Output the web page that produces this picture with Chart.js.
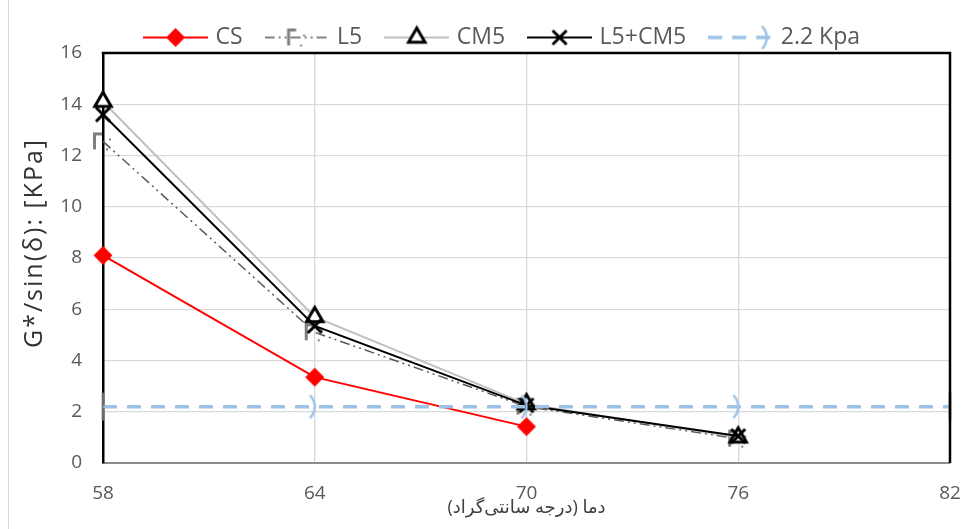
<!DOCTYPE html>
<html>
<head>
<meta charset="utf-8">
<script src="https://cdn.jsdelivr.net/npm/chart.js@4.4.1/dist/chart.umd.min.js"></script>
<style>
  html, body { margin: 0; padding: 0; background: #fff; }
  #wrap { width: 969px; height: 529px; position: relative; }
</style>
</head>
<body>
<div id="wrap"><canvas id="c" width="969" height="529"></canvas></div>
<script>
// Temperatures (°C) and G*/sin(δ) readings
const temps = [58, 64, 70, 76];
const limitTemps = [58, 64, 70, 76, 82];
const csValues = [8.1, 3.35, 1.42];
const l5Values = [12.55, 5.1, 2.2, 0.95];
const cm5Values = [14.1, 5.7, 2.3, 1.0];
const l5cm5Values = [13.6, 5.35, 2.25, 1.05];
const limitValue = 2.2;
const xTicks = [58, 64, 70, 76, 82];
const yTicks = [0, 2, 4, 6, 8, 10, 12, 14, 16];
const seriesNames = ['CS', 'L5', 'CM5', 'L5+CM5', '2.2 Kpa'];
const xTitle = 'دما (درجه سانتی‌گراد)';
const yTitle = 'G*/sin(δ): [KPa]';

const FONT = '"Open Sans", "DejaVu Sans", sans-serif';
const TEXT_GREY = '#595959';
const LIMIT_BLUE = '#9DC3E6';

function makeCanvas(w, h, draw) {
  const c = document.createElement('canvas');
  c.width = w; c.height = h;
  draw(c.getContext('2d'), w, h);
  return c;
}

// ---- marker painters (used for plot points and legend samples) ----
function paintDiamond(g, cx, cy) {
  const r = 9.5;
  g.fillStyle = '#FF0000';
  g.beginPath();
  g.moveTo(cx, cy - r); g.lineTo(cx + r, cy); g.lineTo(cx, cy + r); g.lineTo(cx - r, cy);
  g.closePath(); g.fill();
}
function paintBracket(g, cx, cy) {
  g.strokeStyle = '#7F7F7F';
  g.lineWidth = 3;
  g.lineCap = 'butt';
  g.beginPath();
  g.moveTo(cx - 8.5, cy + 8); g.lineTo(cx - 8.5, cy - 7.5); g.lineTo(cx - 1, cy - 7.5);
  g.stroke();
  g.fillStyle = '#7F7F7F';
  g.fillRect(cx + 6, cy - 3, 2, 2);
  g.fillRect(cx + 3, cy + 7, 2, 2);
}
function paintTriangle(g, cx, cy) {
  const r = 9.5;
  g.fillStyle = '#FFFFFF';
  g.strokeStyle = '#000000';
  g.lineWidth = 3;
  g.lineJoin = 'miter';
  g.beginPath();
  for (let k = 0; k < 3; k++) {
    const a = -Math.PI / 2 + k * 2 * Math.PI / 3;
    const px = cx + Math.cos(a) * r, py = cy + Math.sin(a) * r;
    if (k === 0) g.moveTo(px, py); else g.lineTo(px, py);
  }
  g.closePath(); g.fill(); g.stroke();
}
function paintCross(g, cx, cy) {
  const d = 7;
  g.strokeStyle = '#000000';
  g.lineWidth = 3;
  g.beginPath();
  g.moveTo(cx - d, cy - d); g.lineTo(cx + d, cy + d);
  g.moveTo(cx + d, cy - d); g.lineTo(cx - d, cy + d);
  g.stroke();
}
function paintChevron(g, cx, cy) {
  g.strokeStyle = LIMIT_BLUE;
  g.lineWidth = 2.5;
  g.beginPath();
  g.arc(cx - 16, cy, 16, -0.8, 0.8);
  g.stroke();
}
function paintBar(g, cx, cy) {
  g.fillStyle = 'rgba(140,140,140,0.75)';
  g.fillRect(cx - 1.5, cy - 14, 3, 28);
}

const pointImg = (painter, size) => makeCanvas(size, size, (g, w, h) => painter(g, w / 2, h / 2));
const diamondImg = pointImg(paintDiamond, 24);
const bracketImg = pointImg(paintBracket, 24);
const triangleImg = pointImg(paintTriangle, 26);
const crossImg = pointImg(paintCross, 22);
const chevronImg = pointImg(paintChevron, 36);
const barImg = pointImg(paintBar, 32);

// ---- legend samples: a short line with the series marker ----
const LEG_W = 65, LEG_H = 28;
function legendSample(color, width, dash, painter, markerShift) {
  return makeCanvas(LEG_W, LEG_H, (g, w, h) => {
    g.strokeStyle = color; g.lineWidth = width; g.setLineDash(dash);
    g.beginPath(); g.moveTo(0, h / 2); g.lineTo(w, h / 2); g.stroke();
    g.setLineDash([]);
    painter(g, w / 2 + (markerShift || 0), h / 2);
  });
}
const legendImgs = [
  legendSample('#FF0000', 2, [], paintDiamond),
  legendSample('#595959', 1.5, [10, 4, 2, 4, 2, 4], paintBracket),
  legendSample('#BFBFBF', 2, [], paintTriangle),
  legendSample('#000000', 2, [], paintCross),
  legendSample(LIMIT_BLUE, 3.5, [14, 10], paintChevron, 26)
];

const toXY = (xs, ys) => ys.map((y, i) => ({ x: xs[i], y: y }));

// Legend keeps its item spacing but occupies a fixed band above the plot
const LEGEND_BAND = 53;
const legendBand = {
  id: 'legendBand',
  beforeLayout(chart) {
    const lg = chart.legend;
    if (lg && !lg._bandFit) {
      const fit = lg.fit;
      lg.fit = function () { fit.call(this); this.height = LEGEND_BAND; };
      lg._bandFit = true;
    }
  }
};

// Frame on top and right of the plot plus the vertical axis title
const frameAndTitle = {
  id: 'frameAndTitle',
  afterDatasetsDraw(chart) {
    const { ctx, chartArea: a } = chart;
    ctx.save();
    ctx.strokeStyle = '#000';
    ctx.lineWidth = 2.5;
    ctx.beginPath();
    ctx.moveTo(a.left - 1.25, a.top); ctx.lineTo(a.right, a.top); ctx.lineTo(a.right, a.bottom);
    ctx.stroke();
    ctx.restore();
  },
  afterDraw(chart) {
    const { ctx } = chart;
    ctx.save();
    ctx.translate(35, 243);
    ctx.rotate(-Math.PI / 2);
    ctx.fillStyle = '#333333';
    ctx.font = '25px ' + FONT;
    if ('letterSpacing' in ctx) ctx.letterSpacing = '2px';
    ctx.textAlign = 'center';
    ctx.textBaseline = 'middle';
    ctx.fillText(yTitle, 0, 0);
    ctx.restore();
    // thin outer frame of the chart
    ctx.save();
    ctx.strokeStyle = '#D9D9D9';
    ctx.lineWidth = 1;
    ctx.beginPath();
    ctx.moveTo(8.5, 0); ctx.lineTo(8.5, 529);
    ctx.stroke();
    ctx.restore();
  }
};

const lineDefaults = { clip: false, tension: 0, fill: false };

new Chart(document.getElementById('c'), {
  type: 'line',
  data: {
    datasets: [
      Object.assign({}, lineDefaults, {
        label: seriesNames[0], data: toXY(temps, csValues), order: 5,
        borderColor: '#FF0000', borderWidth: 2, pointStyle: diamondImg
      }),
      Object.assign({}, lineDefaults, {
        label: seriesNames[1], data: toXY(temps, l5Values), order: 4,
        borderColor: '#595959', borderWidth: 1.5, borderDash: [10, 4, 2, 4, 2, 4], pointStyle: bracketImg
      }),
      Object.assign({}, lineDefaults, {
        label: seriesNames[2], data: toXY(temps, cm5Values), order: 3,
        borderColor: '#BFBFBF', borderWidth: 2, pointStyle: triangleImg
      }),
      Object.assign({}, lineDefaults, {
        label: seriesNames[3], data: toXY(temps, l5cm5Values), order: 2,
        borderColor: '#000000', borderWidth: 2, pointStyle: crossImg
      }),
      Object.assign({}, lineDefaults, {
        label: seriesNames[4], data: limitTemps.map(t => ({ x: t, y: limitValue })), order: 1,
        borderColor: LIMIT_BLUE, borderWidth: 3.5, borderDash: [14, 10],
        pointStyle: (ctx) => (ctx.dataIndex === 0 || ctx.dataIndex === limitTemps.length - 1) ? barImg : chevronImg
      })
    ]
  },
  options: {
    responsive: false,
    animation: false,
    events: [],
    layout: { padding: { left: 57, right: 19, top: 0, bottom: 0 } },
    plugins: {
      tooltip: { enabled: false },
      legend: {
        position: 'top',
        labels: {
          usePointStyle: true,
          pointStyleWidth: 57,
          boxHeight: 20,
          padding: 26,
          color: TEXT_GREY,
          font: { family: FONT, size: 23 },
          sort: (a, b) => a.datasetIndex - b.datasetIndex,
          generateLabels(chart) {
            return Chart.defaults.plugins.legend.labels.generateLabels(chart).map(item => {
              item.pointStyle = legendImgs[item.datasetIndex];
              return item;
            });
          }
        }
      }
    },
    scales: {
      x: {
        type: 'linear',
        min: xTicks[0], max: xTicks[xTicks.length - 1],
        afterBuildTicks(scale) { scale.ticks = xTicks.map(v => ({ value: v })); },
        afterFit(scale) { scale.height = 66; scale.paddingLeft = 0; scale.paddingRight = 0; },
        ticks: { color: TEXT_GREY, font: { family: FONT, size: 19 }, padding: 19, maxRotation: 0 },
        grid: {
          drawTicks: false,
          lineWidth: 1.3,
          color: (c) => (c.tick && (c.tick.value === 58 || c.tick.value === 82)) ? 'rgba(0,0,0,0)' : '#D9D9D9'
        },
        border: { color: '#8C8C8C', width: 2 },
        title: {
          display: true, text: xTitle, color: '#404040',
          font: { family: FONT, size: 18 }, padding: { top: 0, bottom: 10 }
        }
      },
      y: {
        min: yTicks[0], max: yTicks[yTicks.length - 1],
        afterBuildTicks(scale) { scale.ticks = yTicks.map(v => ({ value: v })); },
        afterFit(scale) { scale.width = 46; },
        ticks: { color: TEXT_GREY, font: { family: FONT, size: 19 }, padding: 21 },
        grid: {
          drawTicks: false,
          lineWidth: 1.3,
          color: (c) => (c.tick && (c.tick.value === 0 || c.tick.value === 16)) ? 'rgba(0,0,0,0)' : '#D9D9D9'
        },
        border: { color: '#000000', width: 2.5 }
      }
    }
  },
  plugins: [legendBand, frameAndTitle]
});
</script>
</body>
</html>
